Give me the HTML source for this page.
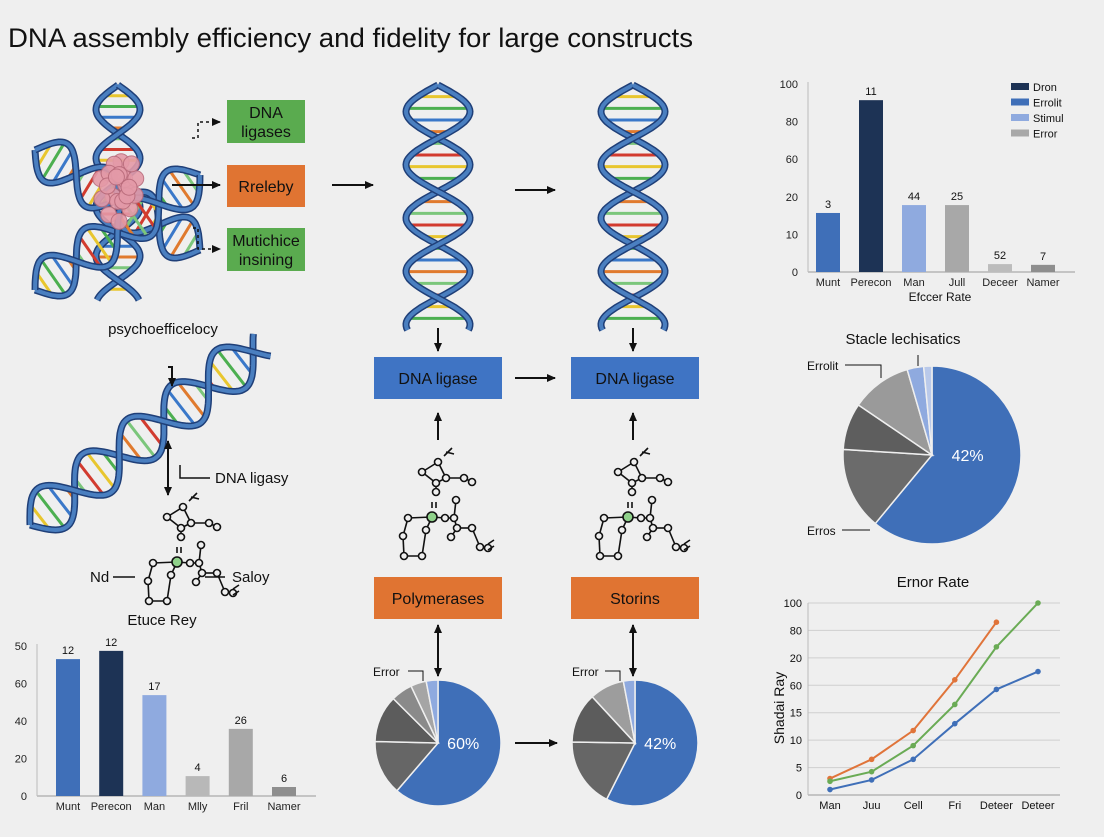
<!DOCTYPE html>
<html><head><meta charset="utf-8">
<style>
body{margin:0;background:#efefef;width:1104px;height:832px;overflow:hidden;font-family:"Liberation Sans",sans-serif;}
svg text{font-family:"Liberation Sans",sans-serif;}
</style></head>
<body>
<svg id="s" width="1104" height="832" viewBox="0 0 1104 832" xmlns="http://www.w3.org/2000/svg">
<rect width="1104" height="832" fill="#efefef"/>
<text x="8" y="47" font-size="27" fill="#111" textLength="685" lengthAdjust="spacingAndGlyphs">DNA assembly efficiency and fidelity for large constructs</text>
<defs><marker id="ah" markerUnits="userSpaceOnUse" markerWidth="9" markerHeight="9" refX="8" refY="4.5" orient="auto"><path d="M0,0.5 L9,4.5 L0,8.5z" fill="#111"/></marker></defs>
<g id="helices"></g>
<g id="boxes"></g>
<g id="arrows" stroke="#111" stroke-width="2" fill="none"></g>
<g id="mols"></g>
<g id="charts"></g>
</svg>
<script>
const NS="http://www.w3.org/2000/svg";
function mk(parent,tag,attrs,text){const e=document.createElementNS(NS,tag);for(const k in attrs)e.setAttribute(k,attrs[k]);if(text!==undefined)e.textContent=text;parent.appendChild(e);return e;}
const H=document.getElementById('helices'),B=document.getElementById('boxes'),A=document.getElementById('arrows'),M=document.getElementById('mols'),C=document.getElementById('charts');
const rungCols=['#d23b2f','#e8c62e','#4caf50','#3a78c9','#e07a2e','#7bc67b'];

function helix(x1,y1,x2,y2,amp,turns,name){
  const g=mk(H,'g',{});
  
  
  const dx=x2-x1,dy=y2-y1,L=Math.hypot(dx,dy),ux=dx/L,uy=dy/L,nx=-uy,ny=ux;
  const N=120;
  const pt=(t,ph)=>{const s=Math.sin(t*turns*2*Math.PI+ph)*amp;return [x1+dx*t+nx*s,y1+dy*t+ny*s];};
  const nr=Math.round(turns*9);
  for(let i=1;i<nr;i++){const t=i/nr;const a=pt(t,0),b=pt(t,Math.PI);
    mk(g,'line',{x1:a[0],y1:a[1],x2:b[0],y2:b[1],stroke:rungCols[i%6],'stroke-width':3});}
  [0,Math.PI].forEach(ph=>{let d='';for(let i=0;i<=N;i++){const p=pt(i/N,ph);d+=(i?'L':'M')+p[0].toFixed(1)+','+p[1].toFixed(1);}
    mk(g,'path',{d,fill:'none',stroke:'#1f3f78','stroke-width':7});
    mk(g,'path',{d,fill:'none',stroke:'#4a7fc0','stroke-width':4});});
}
helix(118,85,118,300,22,2.2,'helix-cluster-vertical');
helix(35,150,200,250,22,2,'helix-cluster-diag-1');
helix(35,290,200,175,22,2,'helix-cluster-diag-2');
for(let i=0;i<22;i++){const a=i*2.4,r=8+(i%5)*5;mk(H,'circle',{cx:120+Math.cos(a)*r*0.7,cy:185+Math.sin(a)*r*1.3,r:8,fill:'#e49aa8',stroke:'#b86a7a','stroke-width':1,opacity:0.9});}
helix(438,85,438,330,32,2.3,'helix-center-1');
helix(633,85,633,330,32,2.3,'helix-center-2');
helix(30,525,262,345,24,2.6,'helix-left-diagonal');

function box(x,y,w,h,fill,lines,name,fs){const g=mk(B,'g',{});
  
  
  mk(g,'rect',{x,y,width:w,height:h,fill});
  lines.forEach((t,i)=>mk(g,'text',{x:x+w/2,y:y+h/2+(i-(lines.length-1)/2)*19+6,'text-anchor':'middle','font-size':fs||16,fill:'#111'},t));}
box(227,100,78,43,'#5aab4f',['DNA','ligases'],'dna-ligases-box');
box(227,165,78,42,'#e07432',['Rreleby'],'rreleby-box');
box(227,228,78,43,'#5aab4f',['Mutichice','insining'],'mutichice-box');
box(374,357,128,42,'#3f74c4',['DNA ligase'],'dna-ligase-box-1');
box(571,357,128,42,'#3f74c4',['DNA ligase'],'dna-ligase-box-2');
box(374,577,128,42,'#e07432',['Polymerases'],'polymerases-box');
box(571,577,128,42,'#e07432',['Storins'],'storins-box');

function arr(d,dash,start){const p=mk(A,'path',{d,'marker-end':'url(#ah)'});if(dash)p.setAttribute('stroke-dasharray','3,3');if(start)p.setAttribute('marker-start','url(#ah)');p.setAttribute('stroke-width',dash?1.5:2);return p;}
arr('M192,138 L198,138 L198,122 L220,122',1);
arr('M172,185 L220,185');
arr('M193,228 L198,228 L198,249 L220,249',1);
arr('M332,185 L373,185');
arr('M515,190 L555,190');
arr('M438,328 L438,351');arr('M633,328 L633,351');
arr('M515,378 L555,378');
arr('M438,440 L438,413');arr('M633,440 L633,413');
arr('M438,633 L438,676');arr('M438,640 L438,625');
arr('M633,633 L633,676');arr('M633,640 L633,625');
arr('M515,743 L557,743');
arr('M168,367 L172,367 L172,386');
arr('M168,470 L168,495');arr('M168,470 L168,441');
mk(A,'path',{d:'M180,465 L180,478 L210,478','stroke-width':1.5});
mk(A,'path',{d:'M113,577 L135,577','stroke-width':1.5});
mk(A,'path',{d:'M205,577 L225,577','stroke-width':1.5});

function txt(x,y,t,fs,name,anchor){const e=mk(C,'text',{x,y,'font-size':fs,fill:'#111','text-anchor':anchor||'start'},t);return e;}
txt(163,334,'psychoefficelocy',15,'label-psychoefficelocy','middle');
txt(215,483,'DNA ligasy',15,'label-dna-ligasy');
txt(90,582,'Nd',15,'label-nd');
txt(232,582,'Saloy',15,'label-saloy');

function mol(ox,oy,name){const g=mk(M,'g',{transform:`translate(${ox},${oy})`,stroke:'#111','stroke-width':1.6,fill:'none'});
  
  const nodes=[[78,42],[62,52],[76,63],[86,58],[104,58],[112,62],[76,72],[72,97],[48,98],[85,98],[94,98],[96,80],[66,110],[43,116],[44,136],[62,136],[97,108],[112,108],[91,117],[120,127],[128,128]];
  const edges=[[0,1],[1,2],[2,3],[3,0],[3,4],[4,5],[2,6],[7,8],[7,9],[9,10],[10,11],[7,12],[12,15],[8,13],[13,14],[14,15],[10,16],[16,17],[16,18],[17,19],[19,20]];
  edges.forEach(e=>mk(g,'line',{x1:nodes[e[0]][0],y1:nodes[e[0]][1],x2:nodes[e[1]][0],y2:nodes[e[1]][1]}));
  nodes.forEach((n,i)=>mk(g,'circle',{cx:n[0],cy:n[1],r:i==7?5:3.5,fill:i==7?'#8fd18a':'#efefef'}));
  mk(g,'path',{d:'M84,36 L92,28 M86,32 L94,34 M72,82 L72,88 M76,82 L76,88 M128,124 L134,120 M128,130 L134,126'});}
mol(360,420,'molecule-1');mol(556,420,'molecule-2');mol(105,465,'molecule-left');

// ---------- Chart data ----------
const trCats=['Munt','Perecon','Man','Jull','Deceer','Namer'];
const trVals=[1.57,4.57,1.78,1.78,0.21,0.19];
const trLabels=['3','11','44','25','52','7'];
const trTicks=['0','10','20','60','80','100'];
const trColors=['#3f6fb8','#1d3355','#8faadf','#a8a8a8','#bcbcbc','#8e8e8e'];
const legendNames=['Dron','Errolit','Stimul','Error'];
const legendColors=['#1d3355','#3f6fb8','#8faadf','#a8a8a8'];

const blCats=['Munt','Perecon','Man','Mlly','Fril','Namer'];
const blVals=[3.65,3.87,2.69,0.53,1.79,0.24];
const blLabels=['12','12','17','4','26','6'];
const blTicks=['0','20','40','60','50'];
const blColors=['#3f6fb8','#1d3355','#8faadf','#b8b8b8','#a8a8a8','#8e8e8e'];

const lnCats=['Man','Juu','Cell','Fri','Deteer','Deteer'];
const lnTicks=['0','5','10','15','60','20','80','100'];
const lnBlue=[0.2,0.55,1.3,2.6,3.85,4.5];
const lnOrange=[0.6,1.3,2.35,4.2,6.3];
const lnGreen=[0.5,0.85,1.8,3.3,5.4,7];

const pieRight=[61,15,8.5,11,3,1.5];
const pieBL=[61,14,12,5.5,4,3];
const pieBR=[58,18,13,9,3];
const pieColors=['#3f6fb8','#6b6b6b','#5e5e5e','#9a9a9a','#8faadf','#b9c9ea'];
const pieColorsBL=['#3f6fb8','#666666','#5c5c5c','#8a8a8a','#a5a5a5','#8faadf'];
const pieColorsBR=['#3f6fb8','#666666','#5c5c5c','#9d9d9d','#8faadf'];

function barChart(cfg){
  const {x0,y0,step,xStart,xStep,bw,cats,vals,labels,ticks,colors,xEnd,prefix}=cfg;
  const ys=v=>y0-v*step, xs=i=>xStart+i*xStep;
  mk(C,'line',{x1:x0,y1:y0,x2:xEnd,y2:y0,stroke:'#999'});
  mk(C,'line',{x1:x0,y1:y0,x2:x0,y2:ys(ticks.length-1)-2,stroke:'#bbb'});
  ticks.forEach((t,i)=>{const e=mk(C,'text',{x:x0-10,y:ys(i)+4,'font-size':11,'text-anchor':'end',fill:'#222'},t);});
  cats.forEach((c,i)=>{
    const r=mk(C,'rect',{x:xs(i)-bw/2,y:ys(vals[i]),width:bw,height:y0-ys(vals[i]),fill:colors[i]});
    
    
    const l=mk(C,'text',{x:xs(i),y:ys(vals[i])-5,'font-size':11,'text-anchor':'middle',fill:'#111'},labels[i]);
    
    const xl=mk(C,'text',{x:xs(i),y:y0+14,'font-size':11,'text-anchor':'middle',fill:'#222'},c);
    
  });
}
barChart({x0:808,y0:272,step:37.6,xStart:828,xStep:43,bw:24,cats:trCats,vals:trVals,labels:trLabels,ticks:trTicks,colors:trColors,xEnd:1075,prefix:'top-chart'});
txt(940,301,'Efccer Rate',12,'top-chart-x-title','middle');
legendNames.forEach((n,i)=>{const r=mk(C,'rect',{x:1011,y:83+i*15.5,width:18,height:7,fill:legendColors[i]});
  txt(1033,91+i*15.5,n,11,'legend-entry-'+n.toLowerCase());});

barChart({x0:37,y0:796,step:37.5,xStart:68,xStep:43.2,bw:24,cats:blCats,vals:blVals,labels:blLabels,ticks:blTicks,colors:blColors,xEnd:316,prefix:'bottom-chart'});
txt(162,625,'Etuce Rey',15,'bottom-chart-title','middle');

(function(){
  const y0=795,step=27.43,x0=808,xStart=830,xStep=41.6;
  const ys=v=>y0-v*step,xs=i=>xStart+i*xStep;
  lnTicks.forEach((t,i)=>{mk(C,'line',{x1:x0,y1:ys(i),x2:1060,y2:ys(i),stroke:i?'#cfcfcf':'#999'});
    txt(x0-6,ys(i)+4,t,11,'line-chart-y-tick','end');});
  mk(C,'line',{x1:x0,y1:y0,x2:x0,y2:ys(7),stroke:'#bbb'});
  lnCats.forEach((c,i)=>txt(xs(i),y0+14,c,11,'line-chart-x-tick','middle'));
  txt(933,587,'Ernor Rate',15,'line-chart-title','middle');
  const yt=txt(0,0,'Shadai Ray',14,'line-chart-y-title','middle');yt.setAttribute('transform','translate(784,708) rotate(-90)');
  [[lnOrange,'#e0743a','orange'],[lnGreen,'#6aab55','green'],[lnBlue,'#3f6fb8','blue']].forEach(([arr,col,n])=>{
    const p=mk(C,'polyline',{points:arr.map((v,i)=>xs(i)+','+ys(v)).join(' '),fill:'none',stroke:col,'stroke-width':2});
    
    arr.forEach((v,i)=>{const c=mk(C,'circle',{cx:xs(i),cy:ys(v),r:2.8,fill:col});});
  });
})();

function pie(cx,cy,r,vals,cols,label,name){
  const tot=vals.reduce((a,b)=>a+b,0);let a0=0;
  vals.forEach((v,i)=>{const a1=a0+v/tot*2*Math.PI;
    const p0=[cx+r*Math.sin(a0),cy-r*Math.cos(a0)],p1=[cx+r*Math.sin(a1),cy-r*Math.cos(a1)];
    const s=mk(C,'path',{d:`M${cx},${cy} L${p0[0]},${p0[1]} A${r},${r} 0 ${a1-a0>Math.PI?1:0} 1 ${p1[0]},${p1[1]} Z`,fill:cols[i],stroke:'#efefef','stroke-width':1.5});
    a0=a1;});
  const t=mk(C,'text',{x:cx+r*0.4,y:cy+6,'font-size':16,fill:'#fff','text-anchor':'middle'},label);
}
pie(932,455,89,pieRight,pieColors,'42%','right-pie');
pie(438,743,63,pieBL,pieColorsBL,'60%','bottom-left-pie');
pie(635,743,63,pieBR,pieColorsBR,'42%','bottom-right-pie');
txt(903,344,'Stacle lechisatics',15,'right-pie-title','middle');
txt(807,370,'Errolit',12,'right-pie-label-errolit');
txt(807,535,'Erros',12,'right-pie-label-erros');
mk(C,'path',{d:'M845,365 L881,365 L881,378 M918,355 L918,366 M842,530 L870,530',stroke:'#111',fill:'none'});
txt(373,676,'Error',12,'bottom-left-pie-label');
txt(572,676,'Error',12,'bottom-right-pie-label');
mk(C,'path',{d:'M408,671 L423,671 L423,681 M605,671 L620,671 L620,681',stroke:'#111',fill:'none'});
</script>
</body></html>
